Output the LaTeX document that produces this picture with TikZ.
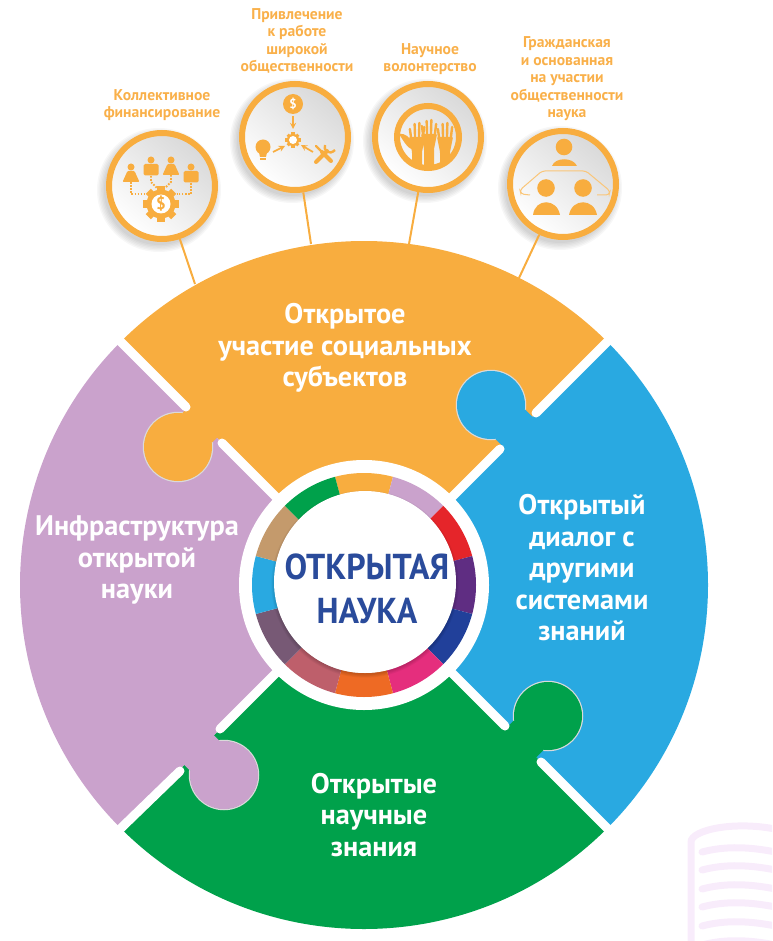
\documentclass[tikz,border=0pt]{standalone}
\usepackage{fontspec}
\setmainfont{PT Sans}
\newfontfamily\titlefont[FakeStretch=0.94]{PT Sans}
\usetikzlibrary{calc}

\definecolor{partorange}{HTML}{F8AD3F}
\definecolor{partblue}{HTML}{29A9E1}
\definecolor{partgreen}{HTML}{00A14B}
\definecolor{partlilac}{HTML}{CAA2CC}
\definecolor{icontext}{HTML}{F9B04A}
\definecolor{titleblue}{HTML}{2A4B9B}
\definecolor{bookpale}{HTML}{F8ECFB}
\definecolor{knobedge}{HTML}{DADADA}

\tikzset{
  iconring/.style={circle, draw=partorange, line width=6pt, minimum size=106pt, inner sep=0pt,
    top color=black!15, bottom color=white, shading angle=-40},
  iconlabel/.style={text=icontext, align=center, font=\fontsize{15.6}{17.5}\selectfont\bfseries},
  partlabel/.style={text=white, align=center, font=\fontsize{28.3}{31.5}\selectfont\bfseries},
  stem/.style={draw=partorange, line width=2pt},
  gapline/.style={white, line width=9pt, line cap=round},
  dotline/.style={draw=partorange, line width=1.8pt, dash pattern=on 1.7pt off 1.4pt},
  iconarrow/.style={draw=partorange, line width=1.7pt, ->, >=stealth},
  bookline/.style={bookpale, line width=7pt, line cap=round},
  personf/.pic={
    \fill[partorange] (0,0) circle (3.5);
    \fill[partorange, rounded corners=1pt] (-3.5,4) -- (3.5,4) -- (8.5,15) -- (-8.5,15) -- cycle;
  },
  personm/.pic={
    \fill[partorange] (0,0) circle (3.5);
    \fill[partorange, rounded corners=1.5pt] (-7.5,4) rectangle (7.5,15.5);
  },
  gearicon/.pic={
    \foreach \a in {0,45,...,315}
      \fill[partorange, rotate=\a] (-3.6,-18) rectangle (3.6,-12);
    \fill[partorange] (0,0) circle (14.5);
    \fill[white] (0,0) circle (9.5);
  },
  handicon/.pic={
    \fill[partorange, rounded corners=1pt] (-8,0) -- (8,0) -- (5,15) -- (5,34) -- (-5,34) -- (-5,15) -- cycle;
    \foreach \fx/\ft in {-5.7/-8,-1.9/-13,1.9/-14,5.7/-10}
      \draw[partorange, line width=2.4pt, line cap=round] (\fx,2) -- (\fx*1.25,\ft);
  }
}

% knob: colour, centre, direction of the neck
\newcommand{\partknob}[3]{
  \draw[knobedge, line width=1.5pt] (#2) circle (34.5);
  \fill[#1] (#2) circle (34);
  \fill[#1, shift={(#2)}, rotate=#3] (0,0) -- (27.5,21) -- (42,21) -- (42,-21) -- (27.5,-21) -- cycle;
}

\begin{document}
\begin{tikzpicture}[x=1pt, y=-1pt]
  \useasboundingbox (0,0) rectangle (772,941);
  \coordinate (mid) at (364,585);

  % pale book in the corner
  \begin{scope}
    \clip (660,800) rectangle (772,941);
    \draw[bookpale, line width=7pt] (691,945) -- (691,842) .. controls (691,830) and (735,820) .. (780,830);
    \foreach \ly in {852,870,889,907,926,945}
      \draw[bookline] (702,\ly) .. controls (725,\ly-6) and (750,\ly-6) .. (785,\ly+2);
  \end{scope}

  % icons
  \coordinate (crowdend) at (195,284);
  \coordinate (publicend) at (311,244);
  \coordinate (volunteerend) at (409,244);
  \coordinate (citizenend) at (519,278);
  \foreach \nm/\px/\py in {crowd/162/186, public/295/137, volunteer/428/137, citizen/563/184} {
    \foreach \k in {0,...,5}
      \fill[black, opacity=.03] (\px-3,\py+4) circle (55+1.4*\k);
    \node[iconring] (\nm) at (\px,\py) {};
    \draw[stem] (\nm) -- (\nm end);
  }

  \node[iconlabel] (crowdtext) at (162,105) {Коллективное\\финансирование};
  \node[iconlabel] (publictext) at (297,41) {Привлечение\\к работе\\широкой\\общественности};
  \node[iconlabel] (volunteertext) at (430,59) {Научное\\волонтерство};
  \node[iconlabel] (citizentext) at (567,79) {Гражданская\\и основанная\\на участии\\общественности\\наука};

  % crowdfunding icon
  \pic at (131,167) {personf};
  \pic at (151,160) {personm};
  \pic at (171,160) {personf};
  \pic at (191,167) {personm};
  \draw[dotline] (131,182) -- (131,194) -- (145,194);
  \draw[dotline] (151,176) -- (151,182) -- (157,188);
  \draw[dotline] (171,175) -- (171,182) -- (165,188);
  \draw[dotline] (191,183) -- (191,194) -- (177,194);
  \pic at (161,204) {gearicon};
  \node[text=partorange, font=\fontsize{17}{17}\selectfont\bfseries] (crowdsign) at (161,204) {\$};

  % outreach icon
  \node[circle, fill=partorange, minimum size=20pt, inner sep=0pt, text=white, font=\fontsize{13}{13}\selectfont\bfseries] (coin) at (293,104) {\$};
  \draw[iconarrow] (293,116) -- (293,129);
  \pic[scale=.42] at (293,140) {gearicon};
  \fill[partorange] (263,147) circle (7.5);
  \fill[partorange] (258.5,150) -- (267.5,150) -- (266,157) -- (260,157) -- cycle;
  \draw[partorange, line width=1.4pt] (260,159) -- (266,159);
  \draw[iconarrow] (273,152) -- (285,146);
  \draw[iconarrow] (313,152) -- (301,145);
  \draw[partorange, line width=2.2pt, line cap=round] (316,146) -- (322,152);
  \draw[partorange, line width=4pt, line cap=round] (322,152) -- (331,161);
  \draw[partorange, line width=4pt, line cap=round] (316,162) -- (327,151);
  \draw[partorange, line width=2.4pt] (325,145) .. controls (323,150) and (329,156) .. (335,150);

  % volunteering icon
  \draw[partorange, line width=6pt] (428,137) circle (31);
  \begin{scope}
    \clip (428,137) circle (31);
    \pic at (417,137) {handicon};
    \pic at (445,137) {handicon};
    \pic at (429,134) {handicon};
    \fill[partorange] (399,134) .. controls (406,133) and (409,138) .. (411,140) -- (413,150) .. controls (407,148) and (403,140) .. cycle;
  \end{scope}

  % citizen science icon
  \fill[partorange] (564,147) circle (8.3);
  \fill[partorange] (552,166) .. controls (555,157) and (573,157) .. (577,166) -- cycle;
  \draw[partorange!70, line width=1pt, rounded corners=3pt] (530,195) -- (521,194) -- (520,190) -- (542,171) -- (586,171) -- (610,191) -- (609,195) -- (597,195);
  \fill[partorange] (546,188) circle (8.8);
  \fill[partorange] (583,188) circle (8.8);
  \fill[partorange] (533,215) .. controls (535,198) and (557,198) .. (560,215) -- cycle;
  \fill[partorange] (569,215) .. controls (572,198) and (594,198) .. (597,215) -- cycle;

  % the four parts
  \fill[partorange] (mid) -- +(-45:344) arc[start angle=-45, end angle=-135, radius=344] -- cycle;
  \fill[partblue] (mid) -- +(45:344) arc[start angle=45, end angle=-45, radius=344] -- cycle;
  \fill[partgreen] (mid) -- +(135:344) arc[start angle=135, end angle=45, radius=344] -- cycle;
  \fill[partlilac] (mid) -- +(-135:344) arc[start angle=-135, end angle=-225, radius=344] -- cycle;

  \partknob{partorange}{178,447}{45}
  \partknob{partblue}{491,405}{-45}
  \partknob{partgreen}{548,716}{-135}
  \partknob{partlilac}{224,775}{135}

  \draw[gapline] (117,338) -- (186,407);
  \draw[gapline] (222,443) -- (mid);
  \draw[gapline] (611,338) -- (536,413);
  \draw[gapline] (500,449) -- (mid);
  \draw[gapline] (611,832) -- (541,762);
  \draw[gapline] (505,726) -- (mid);
  \draw[gapline] (117,832) -- (180,771);
  \draw[gapline] (220,729) -- (mid);

  % middle
  \fill[white] (mid) circle (125);
  \foreach \a/\c in {-90/F8AD3F, -60/CAA2CC, -30/E5252A, 0/5F2D82, 30/21409A, 60/E52E7D,
                     90/EE6A24, 120/BE5F6B, 150/775975, 180/29A9E1, 210/C49A6C, 240/00A14B} {
    \definecolor{ringcol}{HTML}{\c}
    \fill[ringcol] ($(mid)+(\a-15:112)$) arc[start angle=\a-15, end angle=\a+15, radius=112]
      -- ($(mid)+(\a+15:88)$) arc[start angle=\a+15, end angle=\a-15, radius=88] -- cycle;
  }
  \foreach \k in {0,...,4}
    \fill[black, opacity=.035] (365,584) circle (90.5+\k*.8);
  \fill[white] (365,582) circle (91);
  \node[text=titleblue, align=center, font=\fontsize{36}{44}\titlefont\bfseries] (title) at (367,589) {ОТКРЫТАЯ\\НАУКА};

  \node[partlabel] (opentext) at (345,348) {Открытое\\участие социальных\\субъектов};
  \node[partlabel] (dialogtext) at (582,568) {Открытый\\диалог с\\другими\\системами\\знаний};
  \node[partlabel] (knowledgetext) at (374,815) {Открытые\\научные\\знания};
  \node[partlabel] (infratext) at (137,560) {Инфраструктура\\открытой\\науки};
\end{tikzpicture}
\end{document}
